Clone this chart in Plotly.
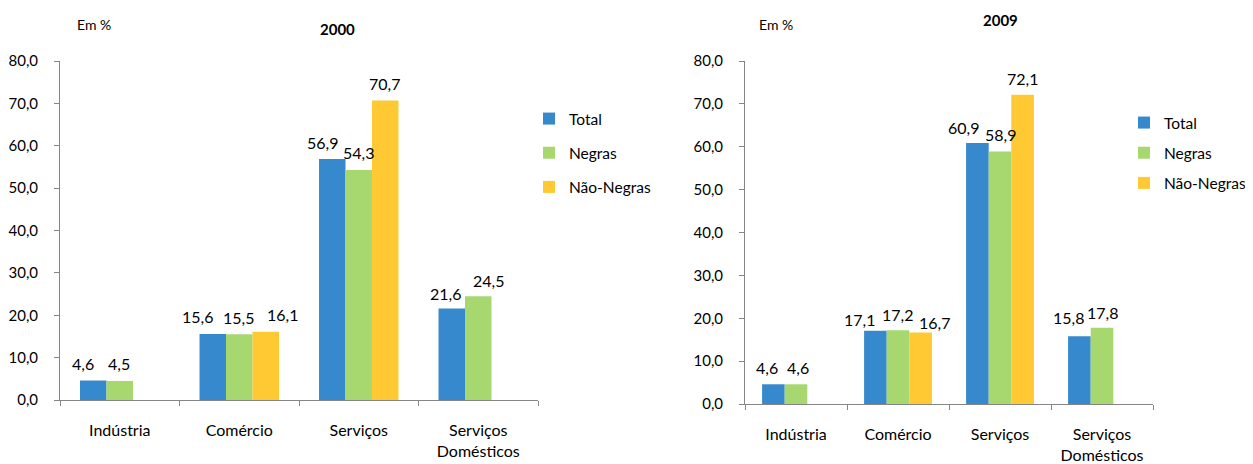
import plotly.graph_objects as go

categories = ["Indústria", "Comércio", "Serviços", "Serviços<br>Domésticos"]
series_names = ["Total", "Negras", "Não-Negras"]

total_2000 = [4.6, 15.6, 56.9, 21.6]
negras_2000 = [4.5, 15.5, 54.3, 24.5]
nao_negras_2000 = [None, 16.1, 70.7, None]

total_2009 = [4.6, 17.1, 60.9, 15.8]
negras_2009 = [4.6, 17.2, 58.9, 17.8]
nao_negras_2009 = [None, 16.7, 72.1, None]

y_ticks = [0, 10, 20, 30, 40, 50, 60, 70, 80]

colors = ["#3689cc", "#a6d86f", "#fec932"]
FONT = "Lato, 'Open Sans', sans-serif"

# The page body has an 8px margin; lay out in screen pixels and shift.
SCREEN_W, SCREEN_H = 1253, 464
OFF = 8
W, H = SCREEN_W - OFF, SCREEN_H - OFF
BARGAP = 0.335


def px_x(sx):
    return (sx - OFF) / W


def px_y(sy):
    return 1 - (sy - OFF) / H


# label horizontal nudges (px) per panel / series / category, mimicking the original layout
label_dx = {
    "2000": [[-10, -15, -10, -6], [-1, -1, 0, 10], [0, 17, -1, 0]],
    "2009": [[-6, -16, -14, -11], [2, -1, 0, 0], [0, 14, 0, 0]],
}
label_dy = {
    "2000": [[17, 17, 16, 15], [17, 17, 17, 16], [0, 17, 17, 0]],
    "2009": [[17, 11, 15, 19], [17, 16, 17, 15], [0, 10, 16, 0]],
}

panels = [
    ("2000", [total_2000, negras_2000, nao_negras_2000], "x", "y", "legend"),
    ("2009", [total_2009, negras_2009, nao_negras_2009], "x2", "y2", "legend2"),
]

fig = go.Figure()
annotations = []
for year, series, xa, ya, leg in panels:
    for s, (name, vals) in enumerate(zip(series_names, series)):
        fig.add_trace(go.Bar(
            x=categories, y=vals, name=name, marker=dict(color=colors[s], line=dict(width=0)),
            xaxis=xa, yaxis=ya, legend=leg, legendgroup=year + name,
        ))
        for c, v in enumerate(vals):
            if v is None:
                continue
            annotations.append(dict(
                x=c + (s - 1) * (1 - BARGAP) / 3, y=v, xref=xa, yref=ya,
                text=f"{v:.1f}".replace(".", ","), showarrow=False,
                xanchor="center", yanchor="middle",
                xshift=label_dx[year][s][c], yshift=label_dy[year][s][c],
                font=dict(family=FONT, size=16, color="#000000"),
            ))

axis_common_x = dict(
    type="category", showgrid=False, showline=True, linecolor="#868686", linewidth=1,
    ticks="outside", tickson="boundaries", ticklen=5, tickcolor="#868686",
    ticklabelstandoff=16,
    tickfont=dict(family=FONT, size=16, color="#000000"), zeroline=False, fixedrange=True,
    automargin=False,
)
axis_common_y = dict(
    range=[0, 80], tickvals=y_ticks, tickformat=".1f", showgrid=False, showline=True,
    linecolor="#868686", linewidth=1, ticks="outside", ticklen=5, tickcolor="#868686",
    ticklabelstandoff=13,
    tickfont=dict(family=FONT, size=15, color="#000000"), zeroline=False, fixedrange=True,
    automargin=False,
)

fig.update_layout(
    width=W, height=H,
    margin=dict(l=0, r=0, t=0, b=0, autoexpand=False),
    paper_bgcolor="white", plot_bgcolor="white",
    separators=",.",
    barmode="group", bargap=BARGAP, bargroupgap=0,
    xaxis=dict(domain=[px_x(60), px_x(538)], anchor="y", **axis_common_x),
    yaxis=dict(domain=[px_y(400), px_y(61)], anchor="x", **axis_common_y),
    xaxis2=dict(domain=[px_x(745), px_x(1153)], anchor="y2", **axis_common_x),
    yaxis2=dict(domain=[px_y(404), px_y(61)], anchor="x2", **axis_common_y),
    legend=dict(x=px_x(529), y=px_y(102), xanchor="left", yanchor="top",
                font=dict(family=FONT, size=15.5, color="#000000"),
                tracegroupgap=11, itemwidth=30, bgcolor="rgba(0,0,0,0)"),
    legend2=dict(x=px_x(1124), y=px_y(106), xanchor="left", yanchor="top",
                 font=dict(family=FONT, size=15.5, color="#000000"),
                 tracegroupgap=7, itemwidth=30, bgcolor="rgba(0,0,0,0)"),
    annotations=annotations + [
        dict(text="Em %", x=px_x(75), y=px_y(24), xref="paper", yref="paper",
             xanchor="left", yanchor="middle", showarrow=False,
             font=dict(family=FONT, size=14, color="#000000")),
        dict(text="<b>2000</b>", x=px_x(337), y=px_y(29), xref="paper", yref="paper",
             xanchor="center", yanchor="middle", showarrow=False,
             font=dict(family=FONT, size=15, color="#000000")),
        dict(text="Em %", x=px_x(757), y=px_y(24), xref="paper", yref="paper",
             xanchor="left", yanchor="middle", showarrow=False,
             font=dict(family=FONT, size=14, color="#000000")),
        dict(text="<b>2009</b>", x=px_x(1000), y=px_y(20), xref="paper", yref="paper",
             xanchor="center", yanchor="middle", showarrow=False,
             font=dict(family=FONT, size=15, color="#000000")),
    ],
)

fig.write_html("out.html")
